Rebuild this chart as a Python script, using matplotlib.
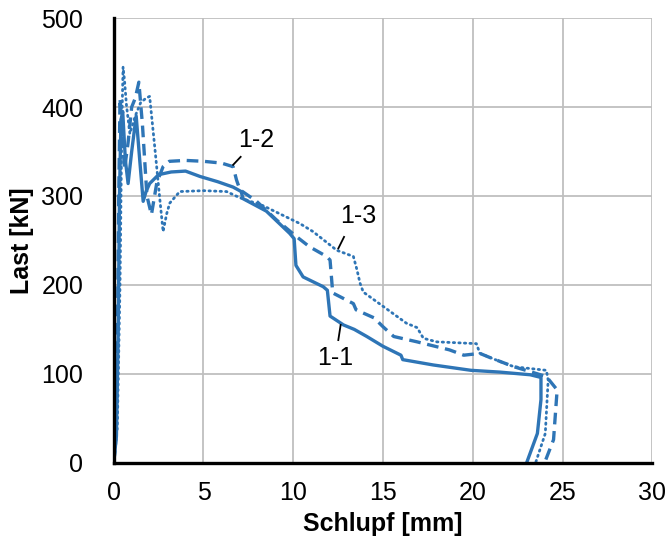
import matplotlib
matplotlib.use("Agg")
import matplotlib.pyplot as plt

plt.rcParams['font.family'] = ['Liberation Sans', 'DejaVu Sans']

# Versuch 1-1 (durchgezogen)
slip_11 = [0, 0.15, 0.25, 0.32, 0.4, 0.5, 0.65, 0.8, 1.0, 1.25, 1.45, 1.64, 1.8, 2.0,
           2.5, 3.2, 4.0, 4.8, 5.8, 6.65, 7.1, 7.2, 8.5, 9.8, 10.05, 10.15, 10.55,
           11.67, 11.9, 12.05, 12.8, 13.4, 14.1, 15.0, 16.0, 16.1, 17.8, 19.9, 21.5,
           23.2, 23.8, 23.8, 23.6, 23.0]
load_11 = [0, 30, 150, 300, 385, 395, 340, 314, 350, 390, 340, 294, 305, 314,
           324, 327, 328, 322, 316, 310, 305, 297, 283, 258, 252, 222, 209,
           198, 194, 165, 155, 150, 142, 131, 121, 116, 110, 104, 102,
           99, 96, 71, 33, 0]

# Versuch 1-2 (gestrichelt)
slip_12 = [0, 0.1, 0.2, 0.28, 0.35, 0.45, 0.6, 0.8, 1.0, 1.2, 1.4, 1.6, 1.85, 2.1,
           2.4, 2.75, 3.1, 4.0, 5.0, 6.0, 6.65, 6.84, 7.03, 7.96, 9.07, 10.2, 10.9,
           11.86, 12.05, 12.2, 13.35, 13.5, 14.5, 15.0, 15.6, 16.9, 18.7, 19.5, 20.4,
           21.0, 22.3, 24.1, 24.7, 24.5, 24.0]
load_12 = [0, 20, 120, 300, 410, 380, 330, 360, 400, 410, 428, 380, 300, 279,
           315, 333, 339, 340, 339, 337, 333, 318, 307, 294, 273, 254, 243,
           232, 228, 191, 179, 172, 163, 153, 142, 136, 127, 121, 123,
           118, 108, 97, 82, 26, 0]

# Versuch 1-3 (gepunktet)
slip_13 = [0, 0.2, 0.35, 0.45, 0.52, 0.6, 0.71, 0.9, 1.2, 1.5, 1.8, 2.0, 2.3, 2.55,
           2.75, 2.95, 3.12, 3.68, 5.0, 6.28, 7.03, 8.33, 10.37, 11.1, 12.42, 13.35,
           13.55, 13.72, 13.9, 15.0, 16.3, 16.9, 17.25, 18.0, 20.2, 20.4, 21.5, 22.3,
           24.1, 24.2, 24.04, 23.5]
load_13 = [0, 40, 200, 380, 445, 430, 402, 370, 390, 405, 410, 412, 352, 300,
           260, 280, 292, 305, 306, 305, 298, 289, 269, 260, 239, 232,
           217, 202, 192, 176, 157, 152, 140, 136, 134, 123, 114, 108,
           104, 93, 33, 0]

blue = '#2e75b6'

fig = plt.figure(figsize=(6.69, 5.49), dpi=100)
ax = fig.add_axes([0.170, 0.157, 0.805, 0.810])

ax.plot(slip_11, load_11, color=blue, lw=2.4, solid_joinstyle='round')
ax.plot(slip_12, load_12, color=blue, lw=2.4, dashes=(3.5, 2))
ax.plot(slip_13, load_13, color=blue, lw=2.0, linestyle=(0, (0.5, 1.5)),
        dash_capstyle='round')

# Beschriftungen der Kurven
ax.text(7.96, 363, '1-2', fontsize=18, ha='center', va='center')
ax.plot([7.07, 6.65], [344, 335], color='black', lw=1.3)
ax.text(13.63, 277, '1-3', fontsize=18, ha='center', va='center')
ax.plot([12.83, 12.51], [254, 241], color='black', lw=1.3)
ax.text(12.33, 118, '1-1', fontsize=18, ha='center', va='center')
ax.plot([12.64, 12.51], [155, 138], color='black', lw=1.3)

ax.set_xlim(0, 30)
ax.set_ylim(0, 500)
ax.set_xticks(range(0, 31, 5))
ax.set_yticks(range(0, 501, 100))
ax.grid(True, color='#bfbfbf', lw=1.3)
ax.set_axisbelow(True)
ax.tick_params(axis='x', length=0, labelsize=18, pad=13)
ax.tick_params(axis='y', length=0, labelsize=18, pad=22)

for s in ['top', 'right']:
    ax.spines[s].set_visible(False)
for s in ['left', 'bottom']:
    ax.spines[s].set_linewidth(2.4)
    ax.spines[s].set_color('black')

ax.set_xlabel('Schlupf [mm]', fontsize=18, fontweight='bold', labelpad=5)
ax.set_ylabel('Last [kN]', fontsize=18, fontweight='bold', labelpad=5)

fig.savefig('out.png', dpi=100)
